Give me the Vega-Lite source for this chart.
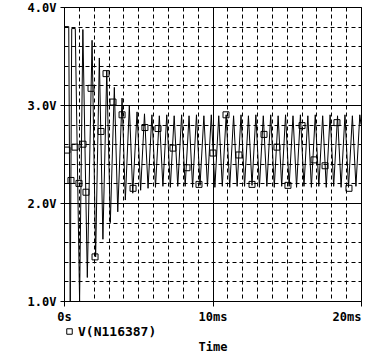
{
  "$schema": "https://vega.github.io/schema/vega-lite/v6.json",
  "width": 297,
  "height": 294,
  "autosize": {"type": "none"},
  "padding": {"left": 64, "top": 7, "right": 22, "bottom": 54},
  "background": "white",
  "config": {
    "view": {"stroke": "black", "strokeWidth": 1},
    "font": "DejaVu Sans Mono"
  },
  "datasets": {
    "wave": [
      {"t": 0, "v": 1.1}, {"t": 0.04, "v": 3.8}, {"t": 0.32, "v": 3.8}, {"t": 0.42, "v": 1.0},
      {"t": 0.52, "v": 3.78}, {"t": 0.76, "v": 3.78}, {"t": 1.05, "v": 1.0}, {"t": 1.27, "v": 3.77},
      {"t": 1.57, "v": 1.24}, {"t": 1.89, "v": 3.66}, {"t": 2.13, "v": 1.45}, {"t": 2.38, "v": 3.48},
      {"t": 2.62, "v": 1.63}, {"t": 2.88, "v": 3.35}, {"t": 3.12, "v": 1.8}, {"t": 3.39, "v": 3.18},
      {"t": 3.62, "v": 1.91}, {"t": 3.91, "v": 3.07}, {"t": 4.13, "v": 2.03}, {"t": 4.4, "v": 2.99},
      {"t": 4.63, "v": 2.1}, {"t": 4.92, "v": 2.93}, {"t": 5.16, "v": 2.13}, {"t": 5.42, "v": 2.91},
      {"t": 5.66, "v": 2.15}, {"t": 5.92, "v": 2.9}, {"t": 6.16, "v": 2.16}, {"t": 6.42, "v": 2.89},
      {"t": 6.66, "v": 2.17}, {"t": 6.92, "v": 2.9}, {"t": 7.16, "v": 2.16}, {"t": 7.42, "v": 2.89},
      {"t": 7.66, "v": 2.17}, {"t": 7.92, "v": 2.9}, {"t": 8.16, "v": 2.17}, {"t": 8.42, "v": 2.89},
      {"t": 8.66, "v": 2.16}, {"t": 8.92, "v": 2.9}, {"t": 9.16, "v": 2.18}, {"t": 9.42, "v": 2.89},
      {"t": 9.66, "v": 2.17}, {"t": 9.92, "v": 2.9}, {"t": 10.16, "v": 2.16}, {"t": 10.42, "v": 2.89},
      {"t": 10.66, "v": 2.17}, {"t": 10.92, "v": 2.9}, {"t": 11.16, "v": 2.16}, {"t": 11.42, "v": 2.89},
      {"t": 11.66, "v": 2.17}, {"t": 11.92, "v": 2.9}, {"t": 12.16, "v": 2.17}, {"t": 12.42, "v": 2.89},
      {"t": 12.66, "v": 2.18}, {"t": 12.92, "v": 2.9}, {"t": 13.16, "v": 2.16}, {"t": 13.42, "v": 2.89},
      {"t": 13.66, "v": 2.17}, {"t": 13.92, "v": 2.9}, {"t": 14.16, "v": 2.16}, {"t": 14.42, "v": 2.89},
      {"t": 14.66, "v": 2.17}, {"t": 14.92, "v": 2.9}, {"t": 15.16, "v": 2.17}, {"t": 15.42, "v": 2.89},
      {"t": 15.66, "v": 2.16}, {"t": 15.92, "v": 2.9}, {"t": 16.16, "v": 2.17}, {"t": 16.42, "v": 2.89},
      {"t": 16.66, "v": 2.16}, {"t": 16.92, "v": 2.9}, {"t": 17.16, "v": 2.17}, {"t": 17.42, "v": 2.89},
      {"t": 17.66, "v": 2.16}, {"t": 17.92, "v": 2.9}, {"t": 18.16, "v": 2.17}, {"t": 18.42, "v": 2.89},
      {"t": 18.66, "v": 2.16}, {"t": 18.92, "v": 2.9}, {"t": 19.16, "v": 2.16}, {"t": 19.42, "v": 2.89},
      {"t": 19.66, "v": 2.17}, {"t": 19.92, "v": 2.9}, {"t": 20.0, "v": 2.8}
    ],
    "markers": [
      {"t": 0.2, "v": 2.54, "series": "V(N116387)"}, {"t": 0.47, "v": 2.23, "series": "V(N116387)"},
      {"t": 0.74, "v": 2.57, "series": "V(N116387)"}, {"t": 1.01, "v": 2.2, "series": "V(N116387)"},
      {"t": 1.28, "v": 2.6, "series": "V(N116387)"}, {"t": 1.48, "v": 2.11, "series": "V(N116387)"},
      {"t": 1.82, "v": 3.17, "series": "V(N116387)"}, {"t": 2.09, "v": 1.45, "series": "V(N116387)"},
      {"t": 2.49, "v": 2.73, "series": "V(N116387)"}, {"t": 2.83, "v": 3.32, "series": "V(N116387)"},
      {"t": 3.3, "v": 3.03, "series": "V(N116387)"}, {"t": 3.91, "v": 2.9, "series": "V(N116387)"},
      {"t": 4.65, "v": 2.15, "series": "V(N116387)"}, {"t": 5.45, "v": 2.77, "series": "V(N116387)"},
      {"t": 6.33, "v": 2.76, "series": "V(N116387)"}, {"t": 7.34, "v": 2.56, "series": "V(N116387)"},
      {"t": 8.28, "v": 2.36, "series": "V(N116387)"}, {"t": 9.09, "v": 2.19, "series": "V(N116387)"},
      {"t": 10.03, "v": 2.51, "series": "V(N116387)"}, {"t": 10.91, "v": 2.9, "series": "V(N116387)"},
      {"t": 11.78, "v": 2.49, "series": "V(N116387)"}, {"t": 12.66, "v": 2.19, "series": "V(N116387)"},
      {"t": 13.47, "v": 2.7, "series": "V(N116387)"}, {"t": 14.34, "v": 2.57, "series": "V(N116387)"},
      {"t": 15.08, "v": 2.18, "series": "V(N116387)"}, {"t": 16.03, "v": 2.79, "series": "V(N116387)"},
      {"t": 16.84, "v": 2.44, "series": "V(N116387)"}, {"t": 17.58, "v": 2.38, "series": "V(N116387)"},
      {"t": 18.38, "v": 2.82, "series": "V(N116387)"}, {"t": 19.19, "v": 2.15, "series": "V(N116387)"}
    ]
  },
  "encoding": {
    "x": {
      "field": "t", "type": "quantitative",
      "scale": {"domain": [0, 20], "nice": false, "zero": false},
      "axis": {
        "title": "Time",
        "values": [0,1,2,3,4,5,6,7,8,9,10,11,12,13,14,15,16,17,18,19,20],
        "grid": true,
        "gridColor": "black",
        "gridOpacity": 1,
        "gridWidth": 1,
        "gridDash": {"condition": {"test": "datum.value % 10 === 0", "value": []}, "value": [4, 3]},
        "domain": false,
        "ticks": true,
        "tickColor": "black",
        "tickSize": 5,
        "tickOpacity": {"condition": {"test": "datum.value % 10 === 0", "value": 1}, "value": 0},
        "labelExpr": "datum.value === 0 ? '0s' : (datum.value % 10 === 0 ? datum.value + 'ms' : '')",
        "labelAlign": {"condition": {"test": "datum.value === 20", "value": "right"}, "value": "center"},
        "labelFlush": false,
        "labelOverlap": false,
        "labelBound": false,
        "labelFont": "DejaVu Sans Mono",
        "labelFontWeight": "bold",
        "labelFontSize": 12,
        "labelColor": "black",
        "labelPadding": 5,
        "titleFont": "DejaVu Sans Mono",
        "titleFontWeight": "bold",
        "titleFontSize": 12,
        "titleColor": "black",
        "titlePadding": 19
      }
    },
    "y": {
      "field": "v", "type": "quantitative",
      "scale": {"domain": [1, 4], "nice": false, "zero": false},
      "axis": {
        "title": null,
        "values": [1,1.2,1.4,1.6,1.8,2,2.2,2.4,2.6,2.8,3,3.2,3.4,3.6,3.8,4],
        "grid": true,
        "gridColor": "black",
        "gridOpacity": 1,
        "gridWidth": 1,
        "gridDash": {"condition": {"test": "abs(datum.value - round(datum.value)) < 0.001", "value": []}, "value": [4, 3]},
        "domain": false,
        "tickColor": "black",
        "tickSize": 4,
        "tickOpacity": {"condition": {"test": "abs(datum.value - round(datum.value)) < 0.001", "value": 1}, "value": 0},
        "labelExpr": "abs(datum.value - round(datum.value)) < 0.001 ? format(datum.value, '.1f') + 'V' : ''",
        "labelFlush": false,
        "labelOverlap": false,
        "labelBound": false,
        "labelFont": "DejaVu Sans Mono",
        "labelFontWeight": "bold",
        "labelFontSize": 12,
        "labelColor": "black",
        "labelPadding": 4
      }
    }
  },
  "layer": [
    {
      "data": {"name": "wave"},
      "mark": {"type": "line", "color": "black", "strokeWidth": 1, "clip": true},
      "encoding": {}
    },
    {
      "data": {"name": "markers"},
      "mark": {"type": "point", "filled": false, "color": "black", "strokeWidth": 1, "size": 36, "opacity": 1, "clip": true},
      "encoding": {
        "shape": {
          "field": "series", "type": "nominal",
          "scale": {"domain": ["V(N116387)"], "range": ["square"]},
          "legend": {
            "orient": "none",
            "legendX": -1,
            "legendY": 318,
            "title": null,
            "padding": 0,
            "labelFont": "DejaVu Sans Mono",
            "labelFontWeight": "bold",
            "labelFontSize": 13,
            "labelColor": "black",
            "labelOffset": 2,
            "symbolSize": 30,
            "symbolStrokeColor": "black",
            "symbolStrokeWidth": 1,
            "symbolFillColor": "transparent"
          }
        }
      }
    }
  ]
}
